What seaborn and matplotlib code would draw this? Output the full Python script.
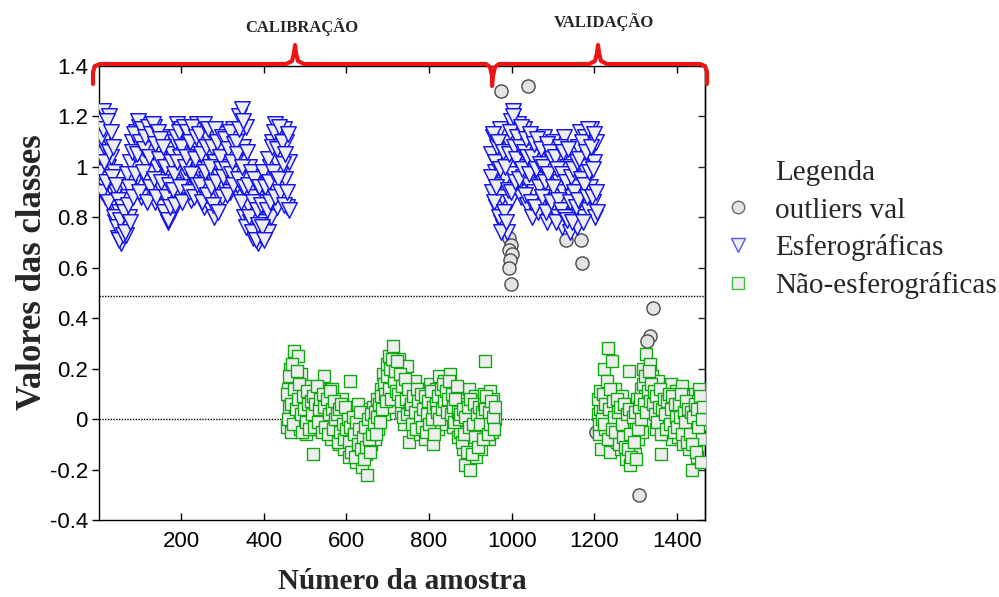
import numpy as np
import matplotlib
matplotlib.use("Agg")
import matplotlib.pyplot as plt
from matplotlib.lines import Line2D
import seaborn as sns

# ---------------- data ----------------
# Each segment is sampled in two interleaved passes (samples start, start+3, ...)
# Esferográficas, calibration
esf_cal_a_start, esf_cal_b_start, esf_step = 1, 2, 3
esf_cal_a = [
    1.05, 1.18, 0.95, 1.22, 1.08, 0.88, 1.12, 1.00, 1.20, 0.92,
    1.04, 0.85, 0.98, 0.78, 0.90, 0.72, 0.82, 0.75, 0.70, 0.86,
    0.76, 0.92, 0.73, 0.88, 0.80, 1.02, 0.95, 1.10, 0.90, 1.05,
    1.14, 0.96, 1.16, 1.08, 0.88, 1.12, 1.17, 1.02, 1.13, 0.94,
    1.10, 1.15, 0.98, 1.06, 1.16, 0.86, 1.12, 1.00, 1.08, 0.92,
    1.02, 0.84, 0.95, 1.12, 0.80, 0.90, 0.78, 0.96, 0.86, 1.05,
    0.82, 1.10, 0.93, 1.17, 0.88, 1.04, 1.15, 0.98, 1.08, 0.90,
    1.12, 0.96, 1.16, 1.02, 0.87, 1.08, 1.14, 0.94, 1.05, 1.17,
    0.99, 1.10, 0.88, 1.15, 1.03, 0.84, 0.95, 1.12, 0.91, 1.06,
    0.83, 0.97, 1.12, 0.80, 1.02, 0.90, 1.14, 0.96, 1.08, 0.88,
    1.04, 0.92, 1.13, 1.00, 0.95, 1.10, 0.90, 1.06, 1.15, 0.98,
    1.02, 0.93, 1.12, 1.20, 0.98, 1.23, 1.08, 0.80, 0.90, 1.16,
    0.85, 1.00, 0.78, 0.92, 0.72, 0.88, 0.75, 0.96, 0.70, 0.82,
    0.73, 0.90, 0.72, 0.86, 0.78, 0.95, 0.74, 0.88, 1.00, 0.80,
    1.10, 0.92, 1.17, 1.02, 0.84, 1.12, 0.97, 1.05, 0.87, 1.15,
    0.95, 1.10, 0.84, 1.02,
]
esf_cal_b = [
    0.98, 1.12, 0.90, 1.15, 1.02, 0.94, 1.18, 0.86, 1.06, 1.14,
    0.96, 1.08, 0.80, 0.93, 0.76, 0.87, 0.71, 0.79, 0.84, 0.73,
    0.82, 0.74, 0.97, 0.85, 0.92, 0.78, 1.06, 0.88, 1.13, 0.97,
    1.05, 1.18, 0.90, 1.10, 1.15, 0.98, 1.07, 1.12, 0.86, 1.16,
    1.04, 0.92, 1.13, 1.17, 0.95, 1.09, 0.88, 1.14, 1.03, 1.11,
    0.94, 1.08, 0.82, 1.00, 0.88, 0.79, 0.93, 0.84, 1.02, 0.91,
    0.97, 0.85, 1.12, 1.02, 1.14, 0.92, 1.08, 0.86, 1.16, 1.00,
    1.04, 1.14, 0.90, 1.10, 0.97, 1.16, 0.88, 1.03, 1.12, 0.93,
    1.13, 0.93, 1.05, 0.86, 1.17, 0.98, 1.08, 0.89, 1.15, 1.00,
    0.92, 1.08, 0.85, 1.15, 0.94, 1.10, 0.82, 1.04, 0.99, 1.12,
    0.96, 1.11, 0.99, 0.89, 1.07, 1.14, 0.97, 1.02, 0.93, 1.09,
    1.10, 1.05, 0.95, 1.15, 0.86, 1.00, 1.18, 0.92, 0.76, 1.06,
    0.93, 0.80, 0.98, 0.74, 0.86, 0.95, 0.71, 0.83, 0.77, 0.92,
    0.85, 0.76, 0.98, 0.71, 0.92, 0.83, 1.03, 0.94, 0.86, 1.08,
    0.98, 1.14, 0.88, 1.07, 0.95, 1.16, 0.90, 1.10, 1.01, 0.85,
    1.05, 0.90, 1.13, 0.83,
]

# Esferográficas, validation
esf_val_a_start, esf_val_b_start = 950, 951
esf_val_a = [
    1.05, 0.90, 1.12, 0.98, 0.84, 1.08, 0.93, 1.15, 0.78, 0.88,
    0.76, 0.95, 1.02, 0.74, 1.10, 0.86, 1.18, 0.97, 1.22, 1.05,
    1.14, 0.92, 1.17, 1.03, 0.88, 1.10, 0.96, 1.15, 1.00, 0.85,
    1.08, 0.93, 1.12, 0.80, 1.02, 0.90, 1.06, 0.97, 0.82, 1.10,
    0.95, 1.04, 0.87, 1.12, 0.98, 0.78, 1.05, 0.92, 1.00, 0.84,
    1.10, 0.96, 0.88, 1.07, 0.80, 0.94, 1.02, 0.76, 0.90, 1.12,
    0.85, 1.00, 0.78, 0.95, 0.74, 0.88, 1.05, 0.82, 0.92, 0.76,
    1.08, 0.90, 1.14, 0.85, 1.00, 0.80, 1.12, 0.95, 0.83, 1.05,
    0.92, 1.15, 0.86, 1.02, 0.80, 1.10,
]
esf_val_b = [
    0.96, 1.13, 0.86, 1.02, 0.92, 1.10, 0.80, 0.99, 0.74, 1.06,
    0.82, 1.00, 0.78, 0.91, 1.05, 1.14, 0.90, 1.20, 1.08, 0.94,
    1.03, 1.12, 0.95, 1.08, 1.16, 0.99, 1.06, 0.89, 1.11, 1.04,
    0.97, 1.13, 0.86, 1.04, 1.09, 0.84, 0.99, 1.11, 0.92, 1.01,
    1.07, 0.88, 1.00, 0.94, 0.82, 1.09, 0.97, 1.06, 0.86, 1.03,
    0.92, 1.04, 0.78, 0.99, 0.87, 1.08, 0.83, 0.97, 1.06, 0.80,
    0.94, 0.79, 1.07, 0.86, 0.96, 0.78, 0.99, 0.90, 0.84, 1.02,
    0.87, 1.03, 0.95, 1.10, 0.78, 0.93, 1.06, 0.88, 1.15, 0.98,
    1.08, 0.88, 0.99, 1.13, 0.90, 0.82,
]

# Não-esferográficas, calibration
nesf_cal_a_start, nesf_cal_b_start = 455, 456
nesf_cal_a = [
    -0.03, 0.12, 0.05, 0.20, -0.05, 0.08, 0.27, 0.02, 0.15, 0.25,
    0.06, -0.04, 0.18, 0.10, 0.00, 0.13, -0.06, 0.04, 0.09, -0.02,
    0.07, -0.14, 0.11, 0.02, -0.04, 0.05, 0.12, -0.03, 0.08, 0.00,
    0.17, 0.03, -0.05, 0.10, 0.01, 0.06, -0.08, 0.12, -0.02, 0.04,
    -0.06, 0.05, -0.10, 0.00, -0.03, 0.08, -0.12, -0.01, 0.03, -0.07,
    -0.15, 0.15, -0.05, -0.11, 0.02, -0.08, -0.17, -0.02, 0.06, -0.12,
    -0.04, -0.19, -0.09, 0.01, -0.14, -0.22, -0.06, 0.04, -0.10, -0.02,
    0.05, -0.08, 0.00, 0.08, -0.04, 0.03, 0.12, 0.06, 0.18, 0.02,
    0.14, 0.22, 0.10, 0.25, 0.17, 0.05, 0.29, 0.12, 0.20, 0.08,
    0.15, 0.24, 0.03, 0.18, 0.10, -0.02, 0.13, 0.21, 0.06, -0.09,
    0.02, 0.11, -0.05, 0.07, 0.15, -0.01, 0.04, 0.09, -0.06, 0.12,
    0.00, 0.06, -0.08, 0.10, 0.03, -0.03, 0.14, 0.05, -0.10, 0.08,
    0.01, 0.12, -0.04, 0.17, 0.06, 0.10, 0.02, 0.15, 0.08, -0.02,
    0.13, 0.04, 0.18, 0.07, -0.03, 0.11, 0.00, 0.09, -0.07, 0.05,
    -0.05, 0.08, -0.12, 0.02, -0.18, 0.06, -0.08, 0.12, -0.20, 0.00,
    0.04, -0.10, 0.09, -0.15, 0.03, -0.04, 0.07, -0.12, 0.01, 0.10,
    0.23, -0.03, 0.06, -0.08, 0.11, 0.02, -0.05, 0.08, 0.00,
]
nesf_cal_b = [
    0.10, 0.00, 0.17, 0.06, 0.22, -0.02, 0.12, 0.04, 0.19, 0.08,
    0.14, 0.02, -0.05, 0.09, 0.04, -0.01, 0.11, 0.06, -0.04, 0.07,
    0.02, 0.09, -0.03, 0.06, 0.13, -0.01, 0.04, 0.08, -0.05, 0.10,
    0.05, -0.03, 0.08, -0.06, 0.02, 0.11, 0.04, -0.04, 0.07, 0.00,
    0.02, -0.09, 0.04, -0.05, 0.06, -0.02, -0.08, 0.05, -0.04, 0.00,
    -0.09, -0.03, -0.13, 0.01, -0.06, -0.15, -0.01, -0.10, -0.04, 0.03,
    -0.12, -0.07, -0.16, -0.03, -0.11, 0.00, -0.08, -0.13, 0.02, -0.06,
    -0.02, 0.03, -0.06, 0.01, 0.06, -0.01, 0.09, 0.04, 0.14, 0.10,
    0.07, 0.17, 0.12, 0.20, 0.08, 0.24, 0.15, 0.19, 0.11, 0.23,
    0.10, 0.18, 0.07, 0.13, 0.01, 0.16, 0.08, 0.02, 0.12, 0.04,
    0.06, -0.02, 0.09, 0.03, -0.04, 0.12, 0.07, 0.01, 0.10, -0.03,
    0.04, 0.09, -0.05, 0.02, 0.07, -0.02, 0.11, 0.00, 0.05, -0.06,
    0.06, 0.03, 0.09, 0.00, 0.12, 0.04, 0.14, 0.07, 0.11, 0.03,
    0.08, 0.15, 0.02, 0.10, 0.05, -0.01, 0.08, 0.13, 0.03, 0.00,
    0.02, -0.09, 0.04, -0.06, 0.01, -0.13, 0.05, -0.03, 0.08, -0.14,
    -0.02, 0.06, -0.07, 0.02, -0.11, 0.05, -0.02, 0.03, -0.08, 0.06,
    0.04, 0.09, -0.06, 0.03, -0.02, 0.07, 0.01, -0.04, 0.05,
]

# Não-esferográficas, validation
nesf_val_a_start, nesf_val_b_start = 1208, 1209
nesf_val_a = [
    0.02, -0.06, 0.04, -0.12,
    0.05, 0.20, -0.04, 0.10, 0.28, 0.02, -0.13, 0.08, 0.23, -0.06,
    0.12, 0.00, -0.09, 0.06, 0.03, -0.12, 0.09, -0.03, 0.04, -0.16,
    -0.06, 0.19, -0.18, 0.02, -0.10, 0.05, -0.14, -0.02, 0.08, -0.08,
    0.03, 0.12, -0.05, 0.20, 0.09, 0.26, 0.15, 0.04, 0.22, 0.10,
    0.17, 0.05, 0.13, -0.04, 0.08, 0.15, 0.01, -0.14, 0.10, 0.03,
    -0.06, 0.12, 0.04, -0.03, 0.09, 0.14, -0.08, 0.06, 0.00, 0.11,
    0.03, -0.07, 0.08, -0.02, 0.13, -0.10, 0.05, 0.01, -0.05, 0.09,
    -0.12, 0.04, -0.20, 0.07, -0.04, 0.10, -0.15, 0.02, 0.12, -0.08,
    0.05, -0.02,
]
nesf_val_b = [
    0.08, -0.02, 0.11, 0.00,
    0.10, -0.02, 0.06, 0.15, -0.08, 0.04, 0.12, -0.04, 0.07, 0.01,
    -0.05, 0.08, 0.03, -0.10, 0.05, -0.02, -0.07, 0.06, -0.11, 0.02,
    -0.12, 0.04, -0.06, -0.15, 0.01, -0.09, 0.03, -0.16, -0.04, 0.05,
    0.08, 0.00, 0.14, 0.06, 0.17, 0.03, 0.11, 0.19, 0.07, 0.14,
    0.06, 0.11, 0.02, 0.09, -0.01, 0.05, 0.12, -0.06, 0.04, 0.08,
    0.02, -0.04, 0.07, 0.10, -0.02, 0.04, 0.09, -0.05, 0.06, 0.01,
    -0.03, 0.06, 0.01, 0.10, -0.06, 0.03, -0.01, 0.07, -0.09, 0.04,
    -0.06, 0.03, -0.10, 0.01, 0.06, -0.13, 0.04, -0.03, 0.09, -0.17,
    0.00, 0.05,
]

# outliers (validation)
out_x = [975, 1040, 975, 978, 994, 999, 994, 1001, 996, 994, 999,
         1132, 1168, 1170, 1342, 1336, 1328, 1308, 1204]
out_y = [1.30, 1.32, 0.90, 0.86, 0.72, 0.69, 0.67, 0.655, 0.63, 0.60, 0.535,
         0.71, 0.71, 0.62, 0.44, 0.33, 0.31, -0.30, -0.05]

threshold = 0.49
xticks = [200, 400, 600, 800, 1000, 1200, 1400]
xtick_labels = ["200", "400", "600", "800", "1000", "1200", "1400"]
yticks = [-0.4, -0.2, 0.0, 0.2, 0.4, 0.6, 0.8, 1.0, 1.2, 1.4]
ytick_labels = ["-0.4", "-0.2", "0", "0.2", "0.4", "0.6", "0.8", "1", "1.2", "1.4"]
legend_labels = ["Legenda", "outliers val", "Esferográficas", "Não-esferográficas"]


def seg(pairs):
    xs, ys = [], []
    for start, vals in pairs:
        xs.extend(start + esf_step * np.arange(len(vals)))
        ys.extend(vals)
    return np.array(xs), np.array(ys)


esf_x, esf_y = seg([(esf_cal_a_start, esf_cal_a), (esf_cal_b_start, esf_cal_b),
                    (esf_val_a_start, esf_val_a), (esf_val_b_start, esf_val_b)])
nesf_x, nesf_y = seg([(nesf_cal_a_start, nesf_cal_a), (nesf_cal_b_start, nesf_cal_b),
                      (nesf_val_a_start, nesf_val_a), (nesf_val_b_start, nesf_val_b)])

# ---------------- style ----------------
sns.set_style("white")
plt.rcParams["font.family"] = ["Liberation Sans", "DejaVu Sans"]
SERIF = ["Liberation Serif", "DejaVu Serif"]

fig = plt.figure(figsize=(9.99, 5.97), dpi=100)
W, H = 999, 597
ax = fig.add_axes([99 / W, 1 - 520 / H, (705 - 99) / W, (520 - 66) / H])

BLUE = "#1414f0"
GREEN = "#10a810"
GRAY_E = "#4a4a4a"
FACE = "#eeeeee"

sns.scatterplot(x=out_x, y=out_y, marker="o", s=90, color=GRAY_E,
                facecolor="#e4e4e4", edgecolor=GRAY_E, linewidth=1.0,
                ax=ax, zorder=2, legend=False)
sns.scatterplot(x=esf_x, y=esf_y, marker="v", s=125, color=BLUE,
                facecolor=FACE, edgecolor=BLUE, linewidth=1.05,
                ax=ax, zorder=3, legend=False)
sns.scatterplot(x=nesf_x, y=nesf_y, marker="s", s=68, color=GREEN,
                facecolor=FACE, edgecolor=GREEN, linewidth=1.0,
                ax=ax, zorder=3, legend=False)

ax.axhline(0, color="black", lw=1.0, ls=(0, (1, 1)), zorder=1)
ax.axhline(threshold, color="black", lw=1.0, ls=(0, (1, 1)), zorder=1)

ax.set_xlim(1, 1468)
ax.set_ylim(-0.4, 1.4)
ax.set_xticks(xticks)
ax.set_xticklabels(xtick_labels)
ax.set_yticks(yticks)
ax.set_yticklabels(ytick_labels)
for sp in ax.spines.values():
    sp.set_color("black")
    sp.set_linewidth(1.0)
ax.tick_params(axis="x", direction="in", top=True, bottom=True, length=5,
               width=1, labelsize=16, pad=8, colors="black")
ax.tick_params(axis="y", direction="out", left=True, right=False, length=5,
               width=1, labelsize=16, pad=3, colors="black")
sec = ax.secondary_yaxis("right")
sec.set_yticks(yticks)
sec.tick_params(direction="in", length=5, width=1, labelright=False)
sec.spines["right"].set_linewidth(1.0)

ax.set_xlabel("Número da amostra", fontfamily=SERIF, fontweight="bold",
              fontsize=21)
ax.xaxis.set_label_coords(0.5, -0.105)
ax.set_ylabel("Valores das classes", fontfamily=SERIF, fontweight="bold",
              fontsize=25)
ax.yaxis.set_label_coords(-0.082, 0.545)

# legend
handles = [
    Line2D([], [], ls="none"),
    Line2D([], [], ls="none", marker="o", markersize=9, mfc="#e4e4e4",
           mec="#6a6a6a", mew=1.0),
    Line2D([], [], ls="none", marker="v", markersize=10, mfc=FACE,
           mec="#5555ee", mew=1.0),
    Line2D([], [], ls="none", marker="s", markersize=8, mfc=FACE,
           mec="#44b844", mew=1.0),
]
fig.legend(handles, legend_labels, loc="upper left",
           bbox_to_anchor=(726 / W, 1 - 160 / H), frameon=False,
           prop={"family": SERIF, "size": 21}, handlelength=0.8,
           handletextpad=0.87, labelspacing=0.37, borderpad=0,
           borderaxespad=0)

# red braces (CALIBRAÇÃO / VALIDAÇÃO)
RED = "#ee1515"
def px(pts):
    xs = [p[0] / W for p in pts]
    ys = [1 - p[1] / H for p in pts]
    return xs, ys

brace = [(93, 84), (93, 72), (95, 66), (100, 64),
         (286, 64), (292, 61), (294, 53), (295, 45), (296, 53), (298, 61), (304, 64),
         (486, 64), (490, 67), (492, 76), (492, 86), (493, 76), (495, 67), (499, 64),
         (589, 64), (595, 61), (597, 53), (598, 45), (599, 53), (601, 61), (607, 64),
         (700, 64), (705, 66), (707, 72), (707, 84)]
bx, by = px(brace)
fig.add_artist(Line2D(bx, by, color=RED, lw=3.0, solid_joinstyle="round",
                      solid_capstyle="round", transform=fig.transFigure,
                      zorder=10))

fig.text(302 / W, 1 - 27 / H, "CALIBRAÇÃO", ha="center", va="center",
         fontfamily=SERIF, fontweight="bold", fontsize=12)
fig.text(604 / W, 1 - 22 / H, "VALIDAÇÃO", ha="center", va="center",
         fontfamily=SERIF, fontweight="bold", fontsize=12)

fig.savefig("out.png", dpi=100, facecolor="white")
